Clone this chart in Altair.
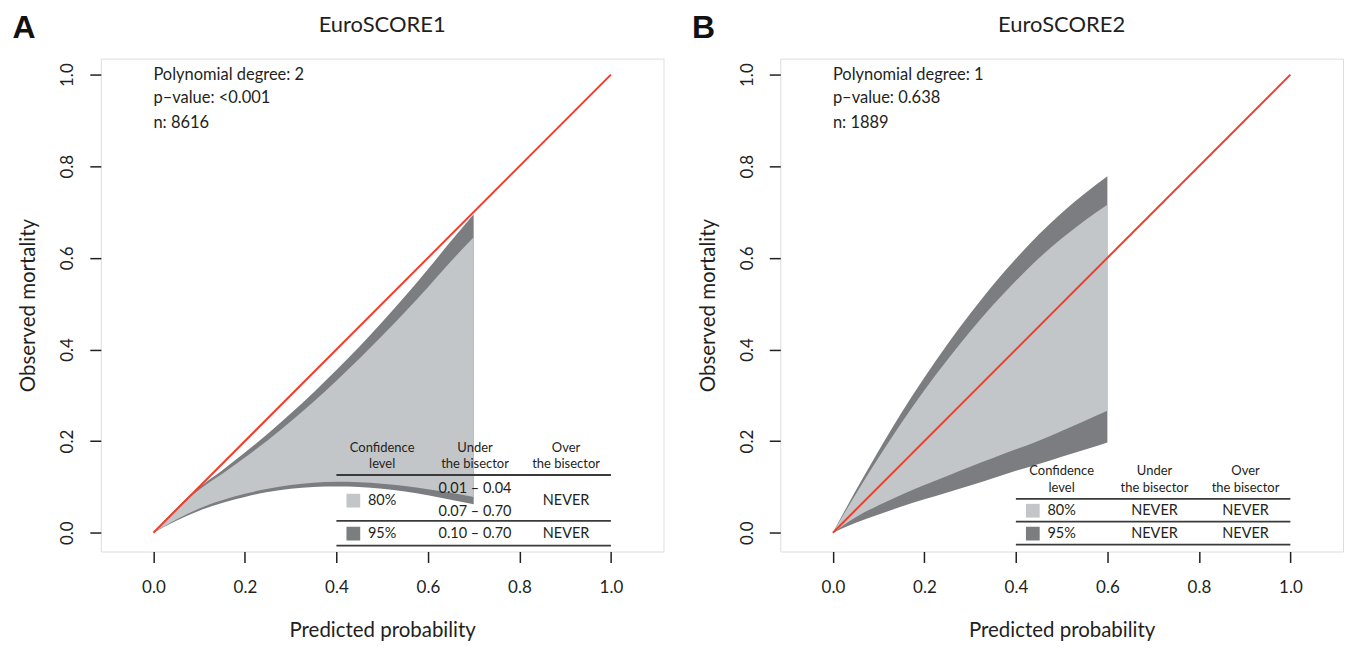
import altair as alt
import pandas as pd

FONT = "Lato"
INK = "#231F20"
DARK = "#7B7D81"
LIGHT = "#C3C6C9"
RED = "#EF3E2D"

# ---------------- data: Panel A (EuroSCORE1) ----------------
a_x       = [0.00, 0.05, 0.10, 0.15, 0.20, 0.25, 0.30, 0.35, 0.40, 0.45, 0.50, 0.55, 0.60, 0.65, 0.70]
a_upper95 = [0.000, 0.053, 0.099, 0.136, 0.175, 0.216, 0.260, 0.306, 0.355, 0.406, 0.460, 0.516, 0.575, 0.636, 0.695]
a_upper80 = [0.000, 0.051, 0.094, 0.128, 0.164, 0.202, 0.243, 0.286, 0.332, 0.380, 0.430, 0.482, 0.536, 0.592, 0.645]
a_lower80 = [0.000, 0.029, 0.053, 0.071, 0.085, 0.096, 0.104, 0.109, 0.111, 0.110, 0.107, 0.102, 0.095, 0.087, 0.078]
a_lower95 = [0.000, 0.026, 0.048, 0.065, 0.078, 0.089, 0.096, 0.100, 0.101, 0.100, 0.096, 0.090, 0.082, 0.072, 0.062]

# ---------------- data: Panel B (EuroSCORE2) ----------------
b_x       = [0.00, 0.05, 0.10, 0.15, 0.20, 0.25, 0.30, 0.35, 0.40, 0.45, 0.50, 0.55, 0.60]
b_upper95 = [0.000, 0.092, 0.179, 0.262, 0.339, 0.411, 0.478, 0.541, 0.598, 0.651, 0.698, 0.740, 0.778]
b_upper80 = [0.000, 0.084, 0.164, 0.240, 0.311, 0.377, 0.439, 0.497, 0.550, 0.599, 0.642, 0.681, 0.716]
b_lower80 = [0.000, 0.034, 0.060, 0.083, 0.104, 0.124, 0.144, 0.163, 0.182, 0.201, 0.222, 0.244, 0.266]
b_lower95 = [0.000, 0.022, 0.040, 0.057, 0.073, 0.088, 0.103, 0.119, 0.135, 0.150, 0.166, 0.181, 0.197]

bisector = [0.0, 1.0]
ticks = [0.0, 0.2, 0.4, 0.6, 0.8, 1.0]

a_info = ["Polynomial degree: 2", "p\u2013value: <0.001", "n: 8616"]
b_info = ["Polynomial degree: 1", "p\u2013value: 0.638", "n: 1889"]

header = [["Confidence", "level"], ["Under", "the bisector"], ["Over", "the bisector"]]
levels = ["80%", "95%"]
a_under = [["0.01 \u2013 0.04", "0.07 \u2013 0.70"], ["0.10 \u2013 0.70"]]
a_over = ["NEVER", "NEVER"]
b_under = [["NEVER"], ["NEVER"]]
b_over = ["NEVER", "NEVER"]

# ---------------- layout (positions, in data units) ----------------
info_y = [1.0, 0.948, 0.895]
col_x = [0.50, 0.703, 0.902]
square_x = 0.437
rule_x = [0.40, 1.0]
a_layout = dict(header_y=[0.185, 0.150], rule_y=[0.126, 0.026, -0.028],
                row_y=[0.070, -0.002], split_y=[0.096, 0.046])
b_layout = dict(header_y=[0.135, 0.098], rule_y=[0.074, 0.024, -0.026],
                row_y=[0.048, -0.002], split_y=[0.096, 0.046])

W, H = 564, 494
xs = alt.Scale(domain=[-0.115, 1.115], nice=False, zero=False)
ys = alt.Scale(domain=[-0.041, 1.035], nice=False, zero=False)

AX = alt.Axis(values=ticks, format=".1f", title="Predicted probability", domain=False, grid=False,
              tickSize=11, tickWidth=1.5, tickColor=INK, labelPadding=17, labelFontSize=17,
              labelFont=FONT, labelColor=INK, labelFlush=False, titleFont=FONT, titleFontSize=20.5,
              titleFontWeight="normal", titleColor=INK, titlePadding=25)
AY = alt.Axis(values=ticks, format=".1f", title="Observed mortality", domain=False, grid=False,
              tickSize=11, tickWidth=1.5, tickColor=INK, labelAngle=-90, labelAlign="center",
              labelBaseline="middle", labelPadding=22, labelFontSize=17, labelFont=FONT,
              labelColor=INK, labelFlush=False, titleFont=FONT, titleFontSize=20.5,
              titleFontWeight="normal", titleColor=INK, titlePadding=20)


def X(f):
    return alt.X(f, type="quantitative", scale=xs, axis=AX)


def Y(f):
    return alt.Y(f, type="quantitative", scale=ys, axis=AY)


def panel(title, letter, x, lo95, up95, lo80, up80, info, under, over, lay):
    band = pd.DataFrame({"x": x, "lo95": lo95, "up95": up95, "lo80": lo80, "up80": up80})
    dark = alt.Chart(band).mark_area(color=DARK, interpolate="monotone").encode(
        x=X("x"), y=Y("lo95"), y2="up95")
    light = alt.Chart(band).mark_area(color=LIGHT, interpolate="monotone").encode(
        x=X("x"), y=Y("lo80"), y2="up80")
    line = alt.Chart(pd.DataFrame({"x": bisector, "y": bisector})).mark_line(
        color=RED, strokeWidth=2).encode(x=X("x"), y=Y("y"))

    info_df = pd.DataFrame({"x": [0.0] * len(info), "y": info_y, "t": info})
    info_txt = alt.Chart(info_df).mark_text(
        align="left", baseline="middle", font=FONT, fontSize=16.5, color=INK).encode(
        x=X("x"), y=Y("y"), text="t:N")

    # table
    rules = pd.DataFrame({"x": [rule_x[0]] * 3, "x2": [rule_x[1]] * 3, "y": lay["rule_y"]})
    rule_l = alt.Chart(rules).mark_rule(color="#3A3A3A", strokeWidth=1.8).encode(
        x=X("x"), x2="x2", y=Y("y"))
    sq = pd.DataFrame({"x": [square_x] * 2, "y": lay["row_y"], "c": [LIGHT, DARK]})
    sq_l = alt.Chart(sq).mark_square(size=190, opacity=1, filled=True).encode(
        x=X("x"), y=Y("y"), color=alt.Color("c:N", scale=None))

    rows = []
    for ci, pair in enumerate(header):
        for li, t in enumerate(pair):
            rows.append({"x": col_x[ci], "y": lay["header_y"][li], "t": t, "k": "h"})
    for ri, lev in enumerate(levels):
        ry = lay["row_y"][ri]
        rows.append({"x": col_x[0], "y": ry, "t": lev, "k": "r"})
        u = under[ri]
        if len(u) == 1:
            rows.append({"x": col_x[1], "y": ry, "t": u[0], "k": "r"})
        else:
            for si, t in enumerate(u):
                rows.append({"x": col_x[1], "y": lay["split_y"][si], "t": t, "k": "r"})
        rows.append({"x": col_x[2], "y": ry, "t": over[ri], "k": "r"})
    tdf = pd.DataFrame(rows)
    head_txt = alt.Chart(tdf[tdf.k == "h"]).mark_text(
        align="center", baseline="middle", font=FONT, fontSize=13, color=INK).encode(
        x=X("x"), y=Y("y"), text="t:N")
    row_txt = alt.Chart(tdf[tdf.k == "r"]).mark_text(
        align="center", baseline="middle", font=FONT, fontSize=14.5, color=INK).encode(
        x=X("x"), y=Y("y"), text="t:N")

    let = alt.Chart(pd.DataFrame({"t": [letter]})).mark_text(
        align="center", baseline="middle", font="Liberation Sans", fontWeight="bold",
        fontSize=32, color="#111111").encode(
        x=alt.value(-77), y=alt.value(-31), text="t:N")
    ttl = alt.Chart(pd.DataFrame({"t": [title]})).mark_text(
        align="center", baseline="middle", font=FONT, fontSize=22, color=INK).encode(
        x=alt.value(W / 2), y=alt.value(-34), text="t:N")

    return alt.layer(dark, light, line, info_txt, rule_l, sq_l, head_txt, row_txt, let, ttl).properties(
        width=W, height=H)


pa = panel("EuroSCORE1", "A", a_x, a_lower95, a_upper95, a_lower80, a_upper80,
           a_info, a_under, a_over, a_layout)
pb = panel("EuroSCORE2", "B", b_x, b_lower95, b_upper95, b_lower80, b_upper80,
           b_info, b_under, b_over, b_layout)

chart = alt.hconcat(pa, pb, spacing=26).properties(
    padding={"left": 3, "right": 0, "top": 2, "bottom": 0}
).configure_view(stroke=INK, strokeWidth=1.5).configure(background="white")

chart.save("out.html", embed_options={"renderer": "svg", "actions": False})
